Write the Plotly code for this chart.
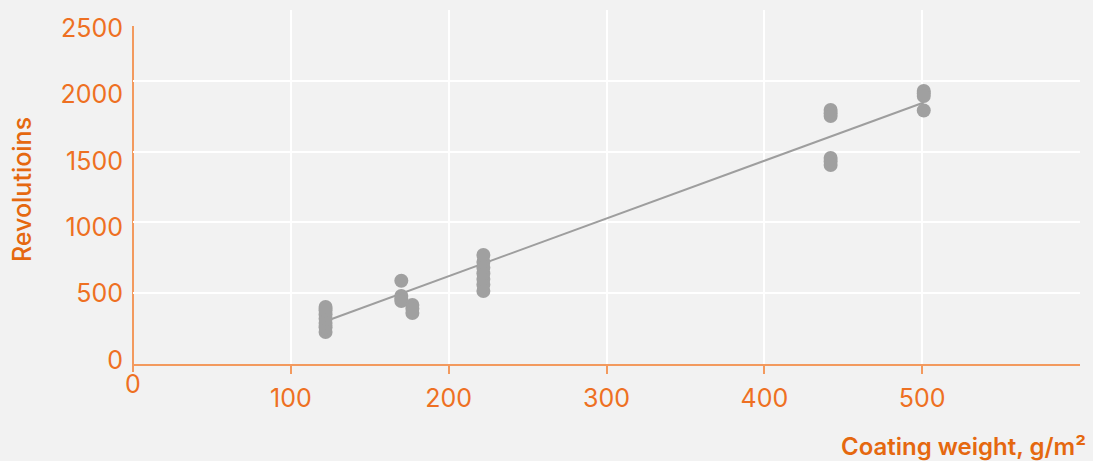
import plotly.graph_objects as go

# Data
x_122 = [122] * 7
y_122 = [226, 260, 290, 320, 350, 380, 403]
x_170 = [170] * 4
y_170 = [588, 480, 460, 445]
x_177 = [177] * 3
y_177 = [417, 390, 360]
x_222 = [222] * 7
y_222 = [516, 560, 600, 640, 680, 720, 770]
x_442 = [442] * 6
y_442 = [1794, 1770, 1751, 1455, 1430, 1405]
x_501 = [501] * 4
y_501 = [1928, 1910, 1893, 1790]

trend_x = [122, 501]
trend_y = [302, 1847]

x_ticks = [100, 200, 300, 400, 500]
x_zero_tick = [0]
y_ticks = [0, 500, 1000, 1500, 2000, 2500]

xs = x_122 + x_170 + x_177 + x_222 + x_442 + x_501
ys = y_122 + y_170 + y_177 + y_222 + y_442 + y_501

ORANGE = "#EE7022"
ORANGE_DARK = "#E5680F"
AXIS_ORANGE = "#F39A5E"
GRAY = "#A0A0A0"
BG = "#F2F2F2"
FONT = "Inter"

fig = go.Figure()
# register the label axis subplot (drawn first, underneath)
fig.add_trace(go.Scatter(x=[], y=[], xaxis="x", yaxis="y", showlegend=False))
fig.add_trace(go.Scatter(x=trend_x, y=trend_y, mode="lines", xaxis="x", yaxis="y2",
                         line=dict(color="#9E9E9E", width=2),
                         hoverinfo="skip", showlegend=False))
fig.add_trace(go.Scatter(x=xs, y=ys, mode="markers", xaxis="x", yaxis="y2",
                         marker=dict(color=GRAY, size=14),
                         showlegend=False))
fig.add_trace(go.Scatter(x=[], y=[], xaxis="x2", yaxis="y2", showlegend=False))

H = 362.0
fig.update_layout(
    width=1093, height=461,
    margin=dict(l=133, r=13, t=10, b=89, autoexpand=False),
    paper_bgcolor=BG, plot_bgcolor="rgba(0,0,0,0)",
    font=dict(family=FONT, color=ORANGE, size=25),
    xaxis=dict(range=[0, 600], tickvals=x_ticks, automargin=False,
               showgrid=True, gridcolor="white", gridwidth=2,
               zeroline=False, showline=True, linecolor=AXIS_ORANGE, linewidth=2,
               ticks="outside", ticklen=8, tickwidth=2, tickcolor=AXIS_ORANGE,
               tickfont=dict(size=25, color=ORANGE), ticklabelstandoff=3,
               anchor="y2"),
    xaxis2=dict(range=[0, 600], overlaying="x", anchor="y2", side="bottom",
                automargin=False,
                tickvals=x_zero_tick, ticktext=["0"], showgrid=False, zeroline=False,
                showline=False, ticks="", tickfont=dict(size=25, color=ORANGE),
                ticklabelstandoff=3),
    # label axis (tick labels + axis line)
    yaxis=dict(range=[-90.4, 2515.1], domain=[0, 346 / H], anchor="free", position=0,
               automargin=False,
               tickvals=y_ticks, showgrid=False, zeroline=False,
               showline=True, linecolor=AXIS_ORANGE, linewidth=2, ticks="",
               tickfont=dict(size=25, color=ORANGE), ticklabelstandoff=4),
    # data / grid axis
    yaxis2=dict(range=[0, 2500], domain=[8 / H, 1], anchor="x", tickvals=y_ticks,
                automargin=False,
                showticklabels=False, showgrid=True, gridcolor="white", gridwidth=2,
                zeroline=False, showline=False, ticks=""),
    annotations=[
        dict(text="Coating weight, g/m²", xref="paper", yref="paper", x=1, y=0,
             xanchor="right", yanchor="middle", xshift=8, yshift=-74, showarrow=False,
             font=dict(family=FONT, size=24, color=ORANGE_DARK, weight=600)),
        dict(text="Revolutioins", xref="paper", yref="paper", x=0, y=(372 - 190) / H,
             xanchor="center", yanchor="middle", xshift=-111, textangle=-90,
             showarrow=False,
             font=dict(family=FONT, size=25, color=ORANGE_DARK, weight=500)),
    ],
)

fig.write_html("out.html", config={"displayModeBar": False},
               post_script="document.body.style.margin='0';")
